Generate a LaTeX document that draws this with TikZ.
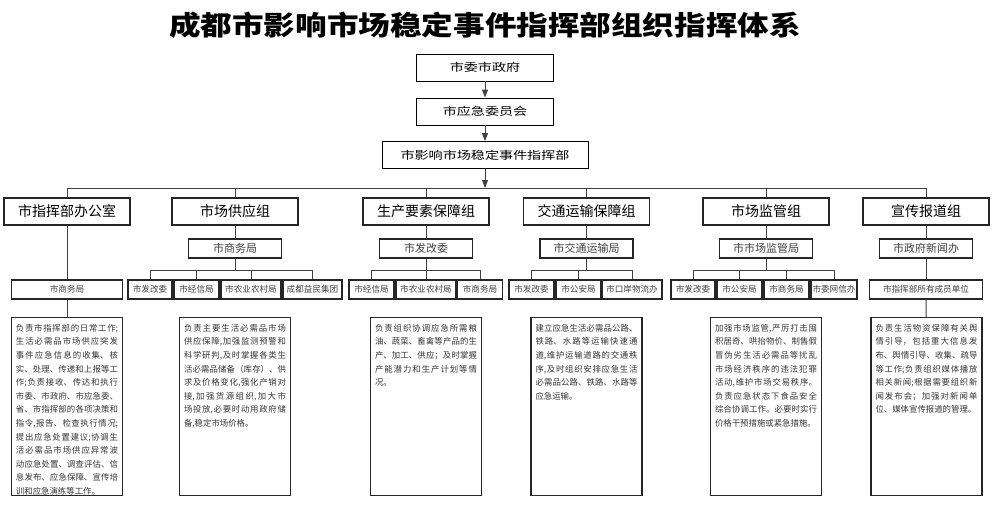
\documentclass[tikz,border=0pt]{standalone}
\usepackage{fontspec}
\usepackage{graphicx}
\setmainfont{Noto Sans CJK SC}
\usetikzlibrary{arrows.meta}
\XeTeXlinebreaklocale "zh"
\XeTeXlinebreakskip=0pt plus 4pt
\setlength{\parindent}{0pt}
\newcommand{\widetxt}[2]{\scalebox{#1}[1]{#2}}

\tikzset{
	topbox/.style={draw=black, line width=0.9pt, minimum height=27pt, inner sep=0pt, font=\fontsize{11}{11}\selectfont},
	groupbox/.style={draw=black!85, line width=1.1pt, minimum width=126pt, minimum height=27pt, inner sep=0pt, font=\fontsize{14}{14}\selectfont},
	leadbox/.style={draw=black!85, line width=1.1pt, minimum width=93pt, minimum height=19pt, inner sep=0pt, text=black!75, font=\fontsize{11}{11}\selectfont},
	unitbox/.style={draw=black!85, line width=1.1pt, minimum height=19pt, inner sep=0pt, text=black!75, font=\fontsize{8.6}{8.6}\selectfont},
	dutybox/.style={draw=black!85, line width=1.1pt, minimum width=111pt, minimum height=178pt, anchor=north, inner sep=0pt},
	dutytext/.style={anchor=north, text width=102pt, inner xsep=0pt, inner ysep=7pt, align=justify, text=black!80, font=\fontsize{8.4}{13.6}\selectfont},
	link/.style={line width=0.9pt, draw=black!75},
	flow/.style={link, -{Triangle[length=8pt, width=6pt]}}
}

\begin{document}
\begin{tikzpicture}[x=1pt, y=-1pt]
			%%%%% START %%%%%
			
			\useasboundingbox (0, 0) rectangle (999, 528);
			
			\node[font=\bfseries\fontsize{27}{27}\selectfont] (title) at (485, 25) {\widetxt{1.17}{成都市影响市场稳定事件指挥部组织指挥体系}};
			
			\node[topbox, minimum width=137pt] (gov) at (485, 67.5) {\widetxt{1.28}{市委市政府}};
			\node[topbox, minimum width=137pt] (emc) at (485, 111.5) {\widetxt{1.28}{市应急委员会}};
			\node[topbox, minimum width=206pt] (hq) at (485, 155) {\widetxt{1.28}{市影响市场稳定事件指挥部}};
			\coordinate (fork) at (485, 188);
			
			\node[groupbox] (office) at (67, 211.5) {市指挥部办公室};
			\node[groupbox] (supply) at (235, 211.5) {市场供应组};
			\node[groupbox] (produce) at (426, 211.5) {生产要素保障组};
			\node[groupbox] (traffic) at (586.5, 211.5) {交通运输保障组};
			\node[groupbox] (market) at (766, 211.5) {市场监管组};
			\node[groupbox] (press) at (926, 211.5) {宣传报道组};
			
			\node[leadbox] (supplylead) at (235, 248.5) {市商务局};
			\node[leadbox] (producelead) at (426, 248.5) {市发改委};
			\node[leadbox] (trafficlead) at (586.5, 248.5) {市交通运输局};
			\node[leadbox] (marketlead) at (766, 248.5) {市市场监管局};
			\node[leadbox] (presslead) at (926, 248.5) {市政府新闻办};
			
			\coordinate (supplyfork) at (235, 270);
			\coordinate (producefork) at (426, 270);
			\coordinate (trafficfork) at (586.5, 270);
			\coordinate (marketfork) at (766, 270);
			
			\node[unitbox, minimum width=111pt] (officeunit) at (67, 289.5) {市商务局};
			\node[unitbox, minimum width=44pt] (supplyA) at (150, 289.5) {市发改委};
			\node[unitbox, minimum width=45pt] (supplyB) at (196.5, 289.5) {市经信局};
			\node[unitbox, minimum width=60pt] (supplyC) at (251, 289.5) {市农业农村局};
			\node[unitbox, minimum width=59pt] (supplyD) at (312.5, 289.5) {成都益民集团};
			\node[unitbox, minimum width=45pt] (produceA) at (371.5, 289.5) {市经信局};
			\node[unitbox, minimum width=60pt] (produceB) at (426, 289.5) {市农业农村局};
			\node[unitbox, minimum width=45pt] (produceC) at (480, 289.5) {市商务局};
			\node[unitbox, minimum width=45pt] (trafficA) at (531.5, 289.5) {市发改委};
			\node[unitbox, minimum width=45pt] (trafficB) at (578.5, 289.5) {市公安局};
			\node[unitbox, minimum width=60pt] (trafficC) at (632, 289.5) {市口岸物流办};
			\node[unitbox, minimum width=44pt] (marketA) at (693, 289.5) {市发改委};
			\node[unitbox, minimum width=45pt] (marketB) at (739.5, 289.5) {市公安局};
			\node[unitbox, minimum width=45pt] (marketC) at (786.5, 289.5) {市商务局};
			\node[unitbox, minimum width=46pt] (marketD) at (834, 289.5) {市委网信办};
			\node[unitbox, minimum width=113pt] (pressunit) at (926, 289.5) {市指挥部所有成员单位};
			
			\node[dutybox] (officeduty) at (67, 317) {};
			\node[dutybox] (supplyduty) at (235, 317) {};
			\node[dutybox] (produceduty) at (426, 317) {};
			\node[dutybox] (trafficduty) at (586.5, 317) {};
			\node[dutybox] (marketduty) at (766, 317) {};
			\node[dutybox] (pressduty) at (926.5, 317) {};
			
			\node[dutytext] (officetext) at (officeduty.north) {负责市指挥部的日常工作;\linebreak
				生活必需品市场供应突发\linebreak
				事件应急信息的收集、核\linebreak
				实、处理、传递和上报等工\linebreak
				作;负责接收、传达和执行\linebreak
				市委、市政府、市应急委、\linebreak
				省、市指挥部的各项决策和\linebreak
				指令,报告、检查执行情况;\linebreak
				提出应急处置建议;协调生\linebreak
				活必需品市场供应异常波\linebreak
				动应急处置、调查评估、信\linebreak
				息发布、应急保障、宣传培\linebreak
				训和应急演练等工作。};
			\node[dutytext] (supplytext) at (supplyduty.north) {负责主要生活必需品市场\linebreak
				供应保障,加强监测预警和\linebreak
				科学研判,及时掌握各类生\linebreak
				活必需品储备（库存）、供\linebreak
				求及价格变化,强化产销对\linebreak
				接,加强货源组织,加大市\linebreak
				场投放,必要时动用政府储\linebreak
				备,稳定市场价格。};
			\node[dutytext] (producetext) at (produceduty.north) {负责组织协调应急所需粮\linebreak
				油、蔬菜、畜禽等产品的生\linebreak
				产、加工、供应；及时掌握\linebreak
				产能潜力和生产计划等情\linebreak
				况。};
			\node[dutytext] (traffictext) at (trafficduty.north) {建立应急生活必需品公路、\linebreak
				铁路、水路等运输快速通\linebreak
				道,维护运输道路的交通秩\linebreak
				序,及时组织安排应急生活\linebreak
				必需品公路、铁路、水路等\linebreak
				应急运输。};
			\node[dutytext] (markettext) at (marketduty.north) {加强市场监管,严厉打击囤\linebreak
				积居奇、哄抬物价、制售假\linebreak
				冒伪劣生活必需品等扰乱\linebreak
				市场经济秩序的违法犯罪\linebreak
				活动,维护市场交易秩序。\linebreak
				负责应急状态下食品安全\linebreak
				综合协调工作。必要时实行\linebreak
				价格干预措施或紧急措施。};
			\node[dutytext] (presstext) at (pressduty.north) {负责生活物资保障有关舆\linebreak
				情引导，包括重大信息发\linebreak
				布、舆情引导、收集、疏导\linebreak
				等工作;负责组织媒体播放\linebreak
				相关新闻;根据需要组织新\linebreak
				闻发布会；加强对新闻单\linebreak
				位、媒体宣传报道的管理。};
			
			\draw[flow] (gov) -- (emc);
			\draw[flow] (emc) -- (hq);
			\draw[flow] (hq) -- (fork);
			
			\draw[link] (fork) -| (office.north);
			\draw[link] (fork) -| (supply.north);
			\draw[link] (fork) -| (produce.north);
			\draw[link] (fork) -| (traffic.north);
			\draw[link] (fork) -| (market.north);
			\draw[link] (fork) -| (press.north);
			
			\draw[link] (office) -- (officeunit);
			\draw[link] (officeunit) -- (officeduty);
			
			\draw[link] (supply) -- (supplylead);
			\draw[link] (supplylead) -- (supplyfork);
			\draw[link] (supplyfork) -| (supplyA.north);
			\draw[link] (supplyfork) -| (supplyB.north);
			\draw[link] (supplyfork) -| (supplyC.north);
			\draw[link] (supplyfork) -| (supplyD.north);
			
			\draw[link] (produce) -- (producelead);
			\draw[link] (producelead) -- (producefork);
			\draw[link] (producefork) -| (produceA.north);
			\draw[link] (producefork) -| (produceB.north);
			\draw[link] (producefork) -| (produceC.north);
			
			\draw[link] (traffic) -- (trafficlead);
			\draw[link] (trafficlead) -- (trafficfork);
			\draw[link] (trafficfork) -| (trafficA.north);
			\draw[link] (trafficfork) -| (trafficB.north);
			\draw[link] (trafficfork) -| (trafficC.north);
			
			\draw[link] (market) -- (marketlead);
			\draw[link] (marketlead) -- (marketfork);
			\draw[link] (marketfork) -| (marketA.north);
			\draw[link] (marketfork) -| (marketB.north);
			\draw[link] (marketfork) -| (marketC.north);
			\draw[link] (marketfork) -| (marketD.north);
			
			\draw[link] (press) -- (presslead);
			\draw[link] (presslead) -- (pressunit);
			\draw[link] (pressunit) -- (pressduty);
			
			%%%%% END %%%%%
\end{tikzpicture}
\end{document}
